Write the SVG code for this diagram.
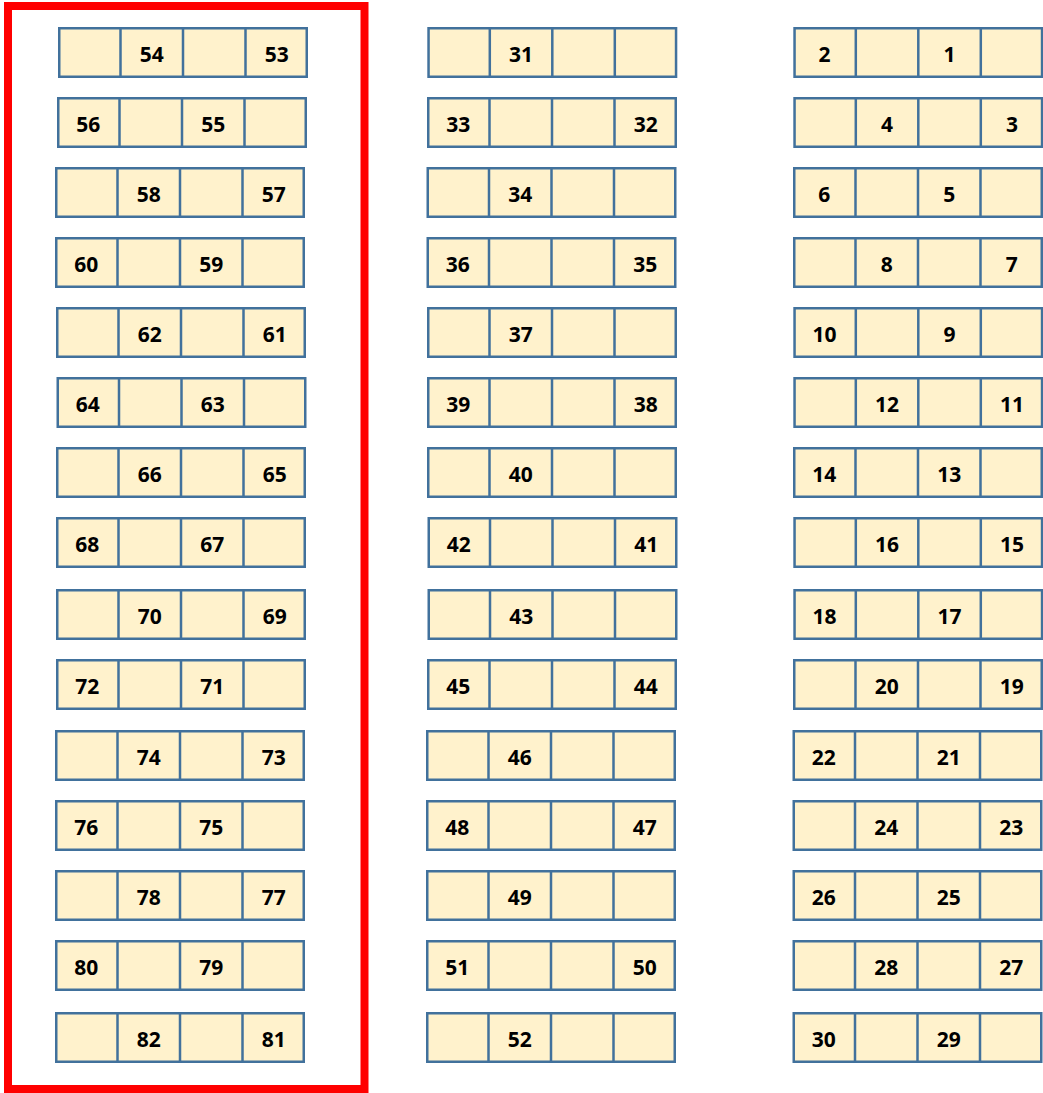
<svg xmlns="http://www.w3.org/2000/svg" xmlns:xlink="http://www.w3.org/1999/xlink" width="1043" height="1093" viewBox="0 0 1043 1093">
<style>
.box{fill:#FFF2CC;stroke:#41719C;stroke-width:2.5}
.div{fill:none;stroke:#41719C;stroke-width:2.5}
.t{font-family:"Open Sans","Liberation Sans",sans-serif;font-weight:700;font-size:21px;text-anchor:middle;fill:#000}
.frame{fill:none;stroke:#FF0000;stroke-width:8}
</style>
<defs>
<g id="row"><rect class="box" x="1.25" y="1.25" width="247.5" height="48.5"/><path class="div" d="M62.5 0V51M125 0V51M187.5 0V51"/></g>
</defs>
<rect width="1043" height="1093" fill="#fff"/>
<rect id="frame" class="frame" x="8" y="6" width="356.5" height="1083"/>
<g id="left">
<g id="L0" transform="translate(58,27)"><use href="#row"/><text class="t" x="93.75" y="34.7">54</text><text class="t" x="218.75" y="34.7">53</text></g>
<g id="L1" transform="translate(57,97)"><use href="#row"/><text class="t" x="31.25" y="34.7">56</text><text class="t" x="156.25" y="34.7">55</text></g>
<g id="L2" transform="translate(55,167)"><use href="#row"/><text class="t" x="93.75" y="34.7">58</text><text class="t" x="218.75" y="34.7">57</text></g>
<g id="L3" transform="translate(55,237)"><use href="#row"/><text class="t" x="31.25" y="34.7">60</text><text class="t" x="156.25" y="34.7">59</text></g>
<g id="L4" transform="translate(56,307)"><use href="#row"/><text class="t" x="93.75" y="34.7">62</text><text class="t" x="218.75" y="34.7">61</text></g>
<g id="L5" transform="translate(56.5,377)"><use href="#row"/><text class="t" x="31.25" y="34.7">64</text><text class="t" x="156.25" y="34.7">63</text></g>
<g id="L6" transform="translate(56,447)"><use href="#row"/><text class="t" x="93.75" y="34.7">66</text><text class="t" x="218.75" y="34.7">65</text></g>
<g id="L7" transform="translate(56,517)"><use href="#row"/><text class="t" x="31.25" y="34.7">68</text><text class="t" x="156.25" y="34.7">67</text></g>
<g id="L8" transform="translate(56,589)"><use href="#row"/><text class="t" x="93.75" y="34.7">70</text><text class="t" x="218.75" y="34.7">69</text></g>
<g id="L9" transform="translate(56,659)"><use href="#row"/><text class="t" x="31.25" y="34.7">72</text><text class="t" x="156.25" y="34.7">71</text></g>
<g id="L10" transform="translate(55,730)"><use href="#row"/><text class="t" x="93.75" y="34.7">74</text><text class="t" x="218.75" y="34.7">73</text></g>
<g id="L11" transform="translate(55,800)"><use href="#row"/><text class="t" x="31.25" y="34.7">76</text><text class="t" x="156.25" y="34.7">75</text></g>
<g id="L12" transform="translate(55,870)"><use href="#row"/><text class="t" x="93.75" y="34.7">78</text><text class="t" x="218.75" y="34.7">77</text></g>
<g id="L13" transform="translate(55,940)"><use href="#row"/><text class="t" x="31.25" y="34.7">80</text><text class="t" x="156.25" y="34.7">79</text></g>
<g id="L14" transform="translate(55,1012)"><use href="#row"/><text class="t" x="93.75" y="34.7">82</text><text class="t" x="218.75" y="34.7">81</text></g>
</g>
<g id="middle">
<g id="M0" transform="translate(427.3,27)"><use href="#row"/><text class="t" x="93.75" y="34.7">31</text></g>
<g id="M1" transform="translate(427,97)"><use href="#row"/><text class="t" x="31.25" y="34.7">33</text><text class="t" x="218.75" y="34.7">32</text></g>
<g id="M2" transform="translate(426.5,167)"><use href="#row"/><text class="t" x="93.75" y="34.7">34</text></g>
<g id="M3" transform="translate(426.5,237)"><use href="#row"/><text class="t" x="31.25" y="34.7">36</text><text class="t" x="218.75" y="34.7">35</text></g>
<g id="M4" transform="translate(427,307)"><use href="#row"/><text class="t" x="93.75" y="34.7">37</text></g>
<g id="M5" transform="translate(427,377)"><use href="#row"/><text class="t" x="31.25" y="34.7">39</text><text class="t" x="218.75" y="34.7">38</text></g>
<g id="M6" transform="translate(427,447)"><use href="#row"/><text class="t" x="93.75" y="34.7">40</text></g>
<g id="M7" transform="translate(427.5,517)"><use href="#row"/><text class="t" x="31.25" y="34.7">42</text><text class="t" x="218.75" y="34.7">41</text></g>
<g id="M8" transform="translate(427.5,589)"><use href="#row"/><text class="t" x="93.75" y="34.7">43</text></g>
<g id="M9" transform="translate(427,659)"><use href="#row"/><text class="t" x="31.25" y="34.7">45</text><text class="t" x="218.75" y="34.7">44</text></g>
<g id="M10" transform="translate(426,730)"><use href="#row"/><text class="t" x="93.75" y="34.7">46</text></g>
<g id="M11" transform="translate(426,800)"><use href="#row"/><text class="t" x="31.25" y="34.7">48</text><text class="t" x="218.75" y="34.7">47</text></g>
<g id="M12" transform="translate(426,870)"><use href="#row"/><text class="t" x="93.75" y="34.7">49</text></g>
<g id="M13" transform="translate(426,940)"><use href="#row"/><text class="t" x="31.25" y="34.7">51</text><text class="t" x="218.75" y="34.7">50</text></g>
<g id="M14" transform="translate(426,1012)"><use href="#row"/><text class="t" x="93.75" y="34.7">52</text></g>
</g>
<g id="right">
<g id="R0" transform="translate(793.3,27)"><use href="#row"/><text class="t" x="31.25" y="34.7">2</text><text class="t" x="156.25" y="34.7">1</text></g>
<g id="R1" transform="translate(793.3,97)"><use href="#row"/><text class="t" x="93.75" y="34.7">4</text><text class="t" x="218.75" y="34.7">3</text></g>
<g id="R2" transform="translate(793,167)"><use href="#row"/><text class="t" x="31.25" y="34.7">6</text><text class="t" x="156.25" y="34.7">5</text></g>
<g id="R3" transform="translate(793,237)"><use href="#row"/><text class="t" x="93.75" y="34.7">8</text><text class="t" x="218.75" y="34.7">7</text></g>
<g id="R4" transform="translate(793.3,307)"><use href="#row"/><text class="t" x="31.25" y="34.7">10</text><text class="t" x="156.25" y="34.7">9</text></g>
<g id="R5" transform="translate(793.3,377)"><use href="#row"/><text class="t" x="93.75" y="34.7">12</text><text class="t" x="218.75" y="34.7">11</text></g>
<g id="R6" transform="translate(793,447)"><use href="#row"/><text class="t" x="31.25" y="34.7">14</text><text class="t" x="156.25" y="34.7">13</text></g>
<g id="R7" transform="translate(793.3,517)"><use href="#row"/><text class="t" x="93.75" y="34.7">16</text><text class="t" x="218.75" y="34.7">15</text></g>
<g id="R8" transform="translate(793.3,589)"><use href="#row"/><text class="t" x="31.25" y="34.7">18</text><text class="t" x="156.25" y="34.7">17</text></g>
<g id="R9" transform="translate(793,659)"><use href="#row"/><text class="t" x="93.75" y="34.7">20</text><text class="t" x="218.75" y="34.7">19</text></g>
<g id="R10" transform="translate(792.5,730)"><use href="#row"/><text class="t" x="31.25" y="34.7">22</text><text class="t" x="156.25" y="34.7">21</text></g>
<g id="R11" transform="translate(792.5,800)"><use href="#row"/><text class="t" x="93.75" y="34.7">24</text><text class="t" x="218.75" y="34.7">23</text></g>
<g id="R12" transform="translate(792.5,870)"><use href="#row"/><text class="t" x="31.25" y="34.7">26</text><text class="t" x="156.25" y="34.7">25</text></g>
<g id="R13" transform="translate(792.5,940)"><use href="#row"/><text class="t" x="93.75" y="34.7">28</text><text class="t" x="218.75" y="34.7">27</text></g>
<g id="R14" transform="translate(792.5,1012)"><use href="#row"/><text class="t" x="31.25" y="34.7">30</text><text class="t" x="156.25" y="34.7">29</text></g>
</g>
</svg>
